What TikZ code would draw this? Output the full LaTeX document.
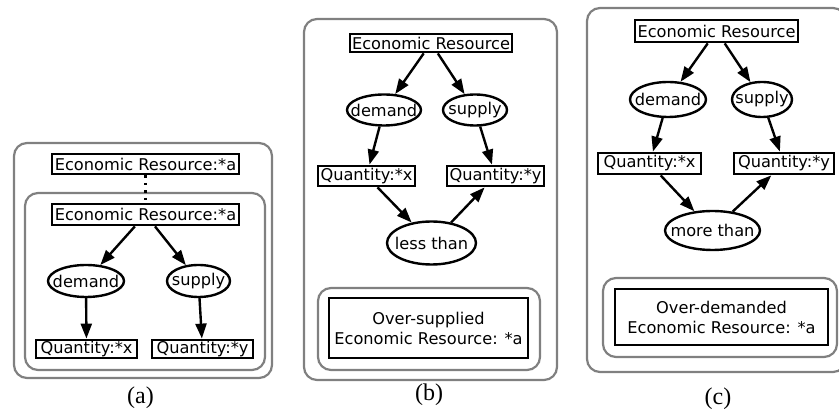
\documentclass[tikz,border=0pt]{standalone}
\usepackage{fontspec}
\setmainfont{DejaVu Sans}
\newfontfamily\capfont{Liberation Serif}
\usetikzlibrary{arrows.meta,shapes.geometric}
\definecolor{ctxgray}{RGB}{128,128,128}
% zero-width box so the text never enlarges its shape
\newcommand\zw[1]{\makebox[0pt]{#1}}

\begin{document}
\begin{tikzpicture}[x=1pt,y=-1pt,
  every node/.style={font=\fontsize{16.2}{20}\selectfont},
  concept/.style={draw,line width=2.8pt,rectangle,inner sep=0pt},
  rel/.style={draw,line width=2.4pt,ellipse,inner sep=0pt},
  ctx/.style={draw=ctxgray,line width=2.2pt,rounded corners=13pt},
  link/.style={line width=2.4pt,-{Triangle[length=15pt,width=11pt]}},
  coref/.style={line width=2.4pt,dash pattern=on 2.5pt off 5pt},
  figtag/.style={anchor=base,inner sep=0pt}]
\useasboundingbox (0,0) rectangle (839,411);

% ---------------- (a) ----------------
\draw[ctx] (14,143) rectangle (272,378);
\draw[ctx] (25,193) rectangle (265,370);
\node[concept,minimum width=187pt,minimum height=20pt] (aTop) at (145.5,164) {\zw{Economic Resource:*a}};
\node[concept,minimum width=187pt,minimum height=21pt] (aER) at (145.5,214.5) {\zw{Economic Resource:*a}};
\node[rel,minimum width=76pt,minimum height=32pt] (aDem) at (86,281) {\zw{demand}};
\node[rel,minimum width=63pt,minimum height=32pt] (aSup) at (198.5,281) {\zw{supply}};
\node[concept,minimum width=101pt,minimum height=18pt] (aQx) at (86.5,349) {\zw{Quantity:*x}};
\node[concept,minimum width=101pt,minimum height=18pt] (aQy) at (202.5,349) {\zw{Quantity:*y}};
\draw[coref] (aTop) -- (aER);
\draw[link] (aER) -- (aDem);
\draw[link] (aER) -- (aSup);
\draw[link] (aDem) -- (aQx);
\draw[link] (aSup) -- (aQy);
\node[figtag] (aLbl) at (140.5,404) {\capfont\fontsize{24}{26}\selectfont (a)};

% ---------------- (b) ----------------
\draw[ctx] (304,19) rectangle (557,380);
\draw[ctx] (318,288) rectangle (540,370);
\node[concept,minimum width=162pt,minimum height=18pt] (bER) at (431,43) {\zw{Economic Resource}};
\node[rel,minimum width=74pt,minimum height=31pt] (bDem) at (384,110) {\zw{demand}};
\node[rel,minimum width=64pt,minimum height=31pt] (bSup) at (475,110) {\zw{supply}};
\node[concept,minimum width=97pt,minimum height=20pt] (bQx) at (366.5,176) {\zw{Quantity:*x}};
\node[concept,minimum width=97pt,minimum height=20pt] (bQy) at (495.5,176) {\zw{Quantity:*y}};
\node[rel,minimum width=89pt,minimum height=43pt] (bLess) at (431.5,243) {\zw{less than}};
\node[concept,minimum width=199pt,minimum height=60pt,align=center] (bRes) at (428.5,328)
  {Over-supplied\\Economic Resource: *a};
\draw[link] (bER) -- (bDem);
\draw[link] (bER) -- (bSup);
\draw[link] (bDem) -- (bQx);
\draw[link] (bSup) -- (bQy);
\draw[link] (bQx) -- (bLess);
\draw[link] (bLess) -- (bQy);
\node[figtag] (bLbl) at (429,401) {\capfont\fontsize{24}{26}\selectfont (b)};

% ---------------- (c) ----------------
\draw[ctx] (587,8) rectangle (846,372);
\draw[ctx] (603,278) rectangle (837,357);
\node[concept,minimum width=163pt,minimum height=22pt] (cER) at (716.5,31) {\zw{Economic Resource}};
\node[rel,minimum width=76pt,minimum height=35pt] (cDem) at (668,99.5) {\zw{demand}};
\node[rel,minimum width=60pt,minimum height=35pt] (cSup) at (762,99.5) {\zw{supply}};
\node[concept,minimum width=103pt,minimum height=21pt] (cQx) at (649.5,163.5) {\zw{Quantity:*x}};
\node[concept,minimum width=100pt,minimum height=21pt] (cQy) at (784,163.5) {\zw{Quantity:*y}};
\node[rel,minimum width=95pt,minimum height=39pt] (cMore) at (712.5,230.5) {\zw{more than}};
\node[concept,minimum width=213pt,minimum height=56pt,align=center] (cRes) at (721.5,317)
  {Over-demanded\\Economic Resource: *a};
\draw[link] (cER) -- (cDem);
\draw[link] (cER) -- (cSup);
\draw[link] (cDem) -- (cQx);
\draw[link] (cSup) -- (cQy);
\draw[link] (cQx) -- (cMore);
\draw[link] (cMore) -- (cQy);
\node[figtag] (cLbl) at (718,405) {\capfont\fontsize{24}{26}\selectfont (c)};
\end{tikzpicture}
\end{document}
